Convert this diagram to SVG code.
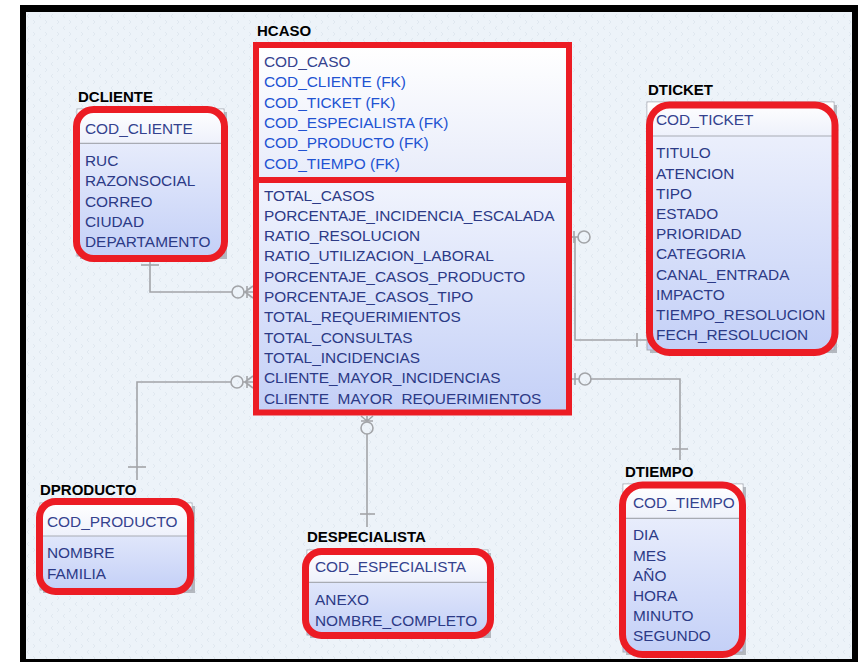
<svg xmlns="http://www.w3.org/2000/svg" width="861" height="662" viewBox="0 0 861 662">
  <defs>
    <linearGradient id="gHead" x1="0" y1="0" x2="0" y2="1">
      <stop offset="0" stop-color="#ffffff"/>
      <stop offset="1" stop-color="#eef1fb"/>
    </linearGradient>
    <linearGradient id="gBody" x1="0" y1="0" x2="0" y2="1">
      <stop offset="0" stop-color="#f1f4fd"/>
      <stop offset="1" stop-color="#c4d0f7"/>
    </linearGradient>
    <linearGradient id="gKeys" x1="0" y1="0" x2="0" y2="1">
      <stop offset="0" stop-color="#ffffff"/>
      <stop offset="1" stop-color="#e8ecfa"/>
    </linearGradient>
    <pattern id="bgDots" width="12" height="12" patternUnits="userSpaceOnUse">
      <rect width="12" height="12" fill="#edf3f9"/>
      <path d="M5 2 L3 4 L5 6 M9 8 L11 10 L9 12" fill="none" stroke="#dde5ee" stroke-width="0.8"/>
    </pattern>
    <clipPath id="clipLast">
      <rect x="259" y="380" width="307" height="25"/>
    </clipPath>
  </defs>
  <style>
    .title { font-family: "Liberation Sans", Arial, sans-serif; font-weight: bold; font-size: 15px; fill: #000; }
    .attr { font-family: "Liberation Sans", Arial, sans-serif; font-size: 15.4px; fill: #2c3a86; }
    .pk { fill: #34428e; }
    .fk { fill: #2152d2; }
    .box { fill: url(#gBody); stroke: #a9acb4; stroke-width: 1; }
    .shadow { fill: #b4b8bf; }
    .head { fill: url(#gHead); }
    .sep { stroke: #a8abb3; stroke-width: 1.2; }
    .hl { fill: none; stroke: #ec1c24; stroke-width: 7; }
    .conn { fill: none; stroke: #a2a4a8; stroke-width: 1.6; }
    .end { fill: none; stroke: #a2a4a8; stroke-width: 1.6; }
  </style>

  <!-- frame and canvas -->
  <rect x="20" y="5" width="838" height="657" fill="#000"/>
  <rect x="26" y="12" width="826" height="647" fill="url(#bgDots)"/>

  <!-- relationship lines -->
  <g id="connectors">
    <!-- DCLIENTE -> HCASO -->
    <path class="conn" d="M150,258 V292 H232"/>
    <path class="end" d="M141,265 H159"/>
    <circle class="end" cx="238" cy="292" r="6"/>
    <path class="end" d="M244,292 H253 M245,292 L253,286 M245,292 L253,298 M247,286 V298"/>

    <!-- DPRODUCTO -> HCASO -->
    <path class="conn" d="M137,480 V382 H231"/>
    <path class="end" d="M128,467 H146"/>
    <circle class="end" cx="237" cy="382" r="6"/>
    <path class="end" d="M243,382 H253 M245,382 L253,376 M245,382 L253,388 M247,376 V388"/>

    <!-- DESPECIALISTA -> HCASO -->
    <path class="conn" d="M367,434 V527"/>
    <path class="end" d="M360,514 H375"/>
    <circle class="end" cx="367" cy="428" r="6"/>
    <path class="end" d="M367,416 V422 M367,421 L361,416 M367,421 L373,416 M361,421 H373"/>

    <!-- DTICKET -> HCASO -->
    <path class="conn" d="M572,237 H578 M575,237 V340 H647"/>
    <path class="end" d="M637,333 V347 M574,231 V243"/>
    <circle class="end" cx="584" cy="237" r="6"/>

    <!-- DTIEMPO -> HCASO -->
    <path class="conn" d="M572,379 H579 M591,379 H680 V460"/>
    <path class="end" d="M672,449 H688 M575,373 V385"/>
    <circle class="end" cx="585" cy="379" r="6"/>
  </g>

  <!-- fact table -->
  <g id="HCASO">
    <text class="title" x="257" y="36">HCASO</text>
    <rect x="259" y="48" width="307" height="130" fill="url(#gKeys)"/>
    <rect x="259" y="182" width="307" height="228" fill="url(#gBody)"/>
    <g class="attr">
      <text class="pk" x="264" y="67">COD_CASO</text>
      <text class="fk" x="264" y="87.3">COD_CLIENTE (FK)</text>
      <text class="fk" x="264" y="107.6">COD_TICKET (FK)</text>
      <text class="fk" x="264" y="127.9">COD_ESPECIALISTA (FK)</text>
      <text class="fk" x="264" y="148.2">COD_PRODUCTO (FK)</text>
      <text class="fk" x="264" y="168.5">COD_TIEMPO (FK)</text>
      <text x="264" y="200.5">TOTAL_CASOS</text>
      <text x="264" y="220.8">PORCENTAJE_INCIDENCIA_ESCALADA</text>
      <text x="264" y="241.1">RATIO_RESOLUCION</text>
      <text x="264" y="261.4">RATIO_UTILIZACION_LABORAL</text>
      <text x="264" y="281.7">PORCENTAJE_CASOS_PRODUCTO</text>
      <text x="264" y="302">PORCENTAJE_CASOS_TIPO</text>
      <text x="264" y="322.3">TOTAL_REQUERIMIENTOS</text>
      <text x="264" y="342.6">TOTAL_CONSULTAS</text>
      <text x="264" y="362.9">TOTAL_INCIDENCIAS</text>
      <text x="264" y="383.2">CLIENTE_MAYOR_INCIDENCIAS</text>
      <text x="264" y="403.5" clip-path="url(#clipLast)">CLIENTE_MAYOR_REQUERIMIENTOS</text>
    </g>
    <rect x="256" y="45" width="313" height="367.5" fill="none" stroke="#ec1c24" stroke-width="6"/>
    <path d="M256,180 H569" stroke="#ec1c24" stroke-width="6"/>
  </g>

  <g id="DCLIENTE">
    <text class="title" x="78" y="102">DCLIENTE</text>
    <rect class="shadow" x="80" y="112" width="147" height="147"/>
    <rect class="box" x="77" y="109" width="147" height="147"/>
    <rect class="head" x="77.5" y="109.5" width="146" height="33.5"/>
    <path class="sep" d="M77,143.3 H224"/>
    <g class="attr">
      <text class="pk" x="85" y="133.7">COD_CLIENTE</text>
      <text x="85" y="166">RUC</text>
      <text x="85" y="186.2">RAZONSOCIAL</text>
      <text x="85" y="206.5">CORREO</text>
      <text x="85" y="226.7">CIUDAD</text>
      <text x="85" y="247">DEPARTAMENTO</text>
    </g>
    <rect class="hl" x="76.5" y="109.5" width="148" height="149" rx="17"/>
  </g>

  <g id="DTICKET">
    <text class="title" x="648" y="95">DTICKET</text>
    <rect class="shadow" x="650" y="105" width="187" height="248"/>
    <rect class="box" x="647" y="102" width="187" height="248"/>
    <rect class="head" x="647.5" y="102.5" width="186" height="33.5"/>
    <path class="sep" d="M647,136 H834"/>
    <g class="attr">
      <text class="pk" x="656" y="125.3">COD_TICKET</text>
      <text x="656" y="158.3">TITULO</text>
      <text x="656" y="178.5">ATENCION</text>
      <text x="656" y="198.7">TIPO</text>
      <text x="656" y="218.9">ESTADO</text>
      <text x="656" y="239.1">PRIORIDAD</text>
      <text x="656" y="259.3">CATEGORIA</text>
      <text x="656" y="279.5">CANAL_ENTRADA</text>
      <text x="656" y="299.7">IMPACTO</text>
      <text x="656" y="319.9">TIEMPO_RESOLUCION</text>
      <text x="656" y="340.1">FECH_RESOLUCION</text>
    </g>
    <rect class="hl" x="649.5" y="105" width="185.5" height="247.5" rx="20"/>
  </g>

  <g id="DTIEMPO">
    <text class="title" x="625" y="477">DTIEMPO</text>
    <rect class="shadow" x="626" y="487" width="120" height="168"/>
    <rect class="box" x="623" y="484" width="120" height="168"/>
    <rect class="head" x="623.5" y="484.5" width="119" height="33.5"/>
    <path class="sep" d="M623,518.3 H743"/>
    <g class="attr">
      <text class="pk" x="633" y="508.3">COD_TIEMPO</text>
      <text x="633" y="540.3">DIA</text>
      <text x="633" y="560.5">MES</text>
      <text x="633" y="580.7">AÑO</text>
      <text x="633" y="600.9">HORA</text>
      <text x="633" y="621.1">MINUTO</text>
      <text x="633" y="641.3">SEGUNDO</text>
    </g>
    <rect class="hl" x="622.5" y="485" width="120" height="169.5" rx="20"/>
  </g>

  <g id="DPRODUCTO">
    <text class="title" x="40" y="495">DPRODUCTO</text>
    <rect class="shadow" x="43" y="506" width="152" height="87"/>
    <rect class="box" x="40" y="503" width="152" height="87"/>
    <rect class="head" x="40.5" y="503.5" width="151" height="32.5"/>
    <path class="sep" d="M40,536 H192"/>
    <g class="attr">
      <text class="pk" x="47" y="527.3">COD_PRODUCTO</text>
      <text x="47" y="558.3">NOMBRE</text>
      <text x="47" y="578.5">FAMILIA</text>
    </g>
    <rect class="hl" x="39.5" y="501.5" width="151" height="90" rx="16"/>
  </g>

  <g id="DESPECIALISTA">
    <text class="title" x="307" y="542">DESPECIALISTA</text>
    <rect class="shadow" x="310" y="553" width="181" height="85"/>
    <rect class="box" x="307" y="550" width="181" height="85"/>
    <rect class="head" x="307.5" y="550.5" width="180" height="31.5"/>
    <path class="sep" d="M307,582.3 H488"/>
    <g class="attr">
      <text class="pk" x="315" y="572.3">COD_ESPECIALISTA</text>
      <text x="315" y="605.3">ANEXO</text>
      <text x="315" y="625.5">NOMBRE_COMPLETO</text>
    </g>
    <rect class="hl" x="305.5" y="551.5" width="185" height="84" rx="16"/>
  </g>
</svg>
